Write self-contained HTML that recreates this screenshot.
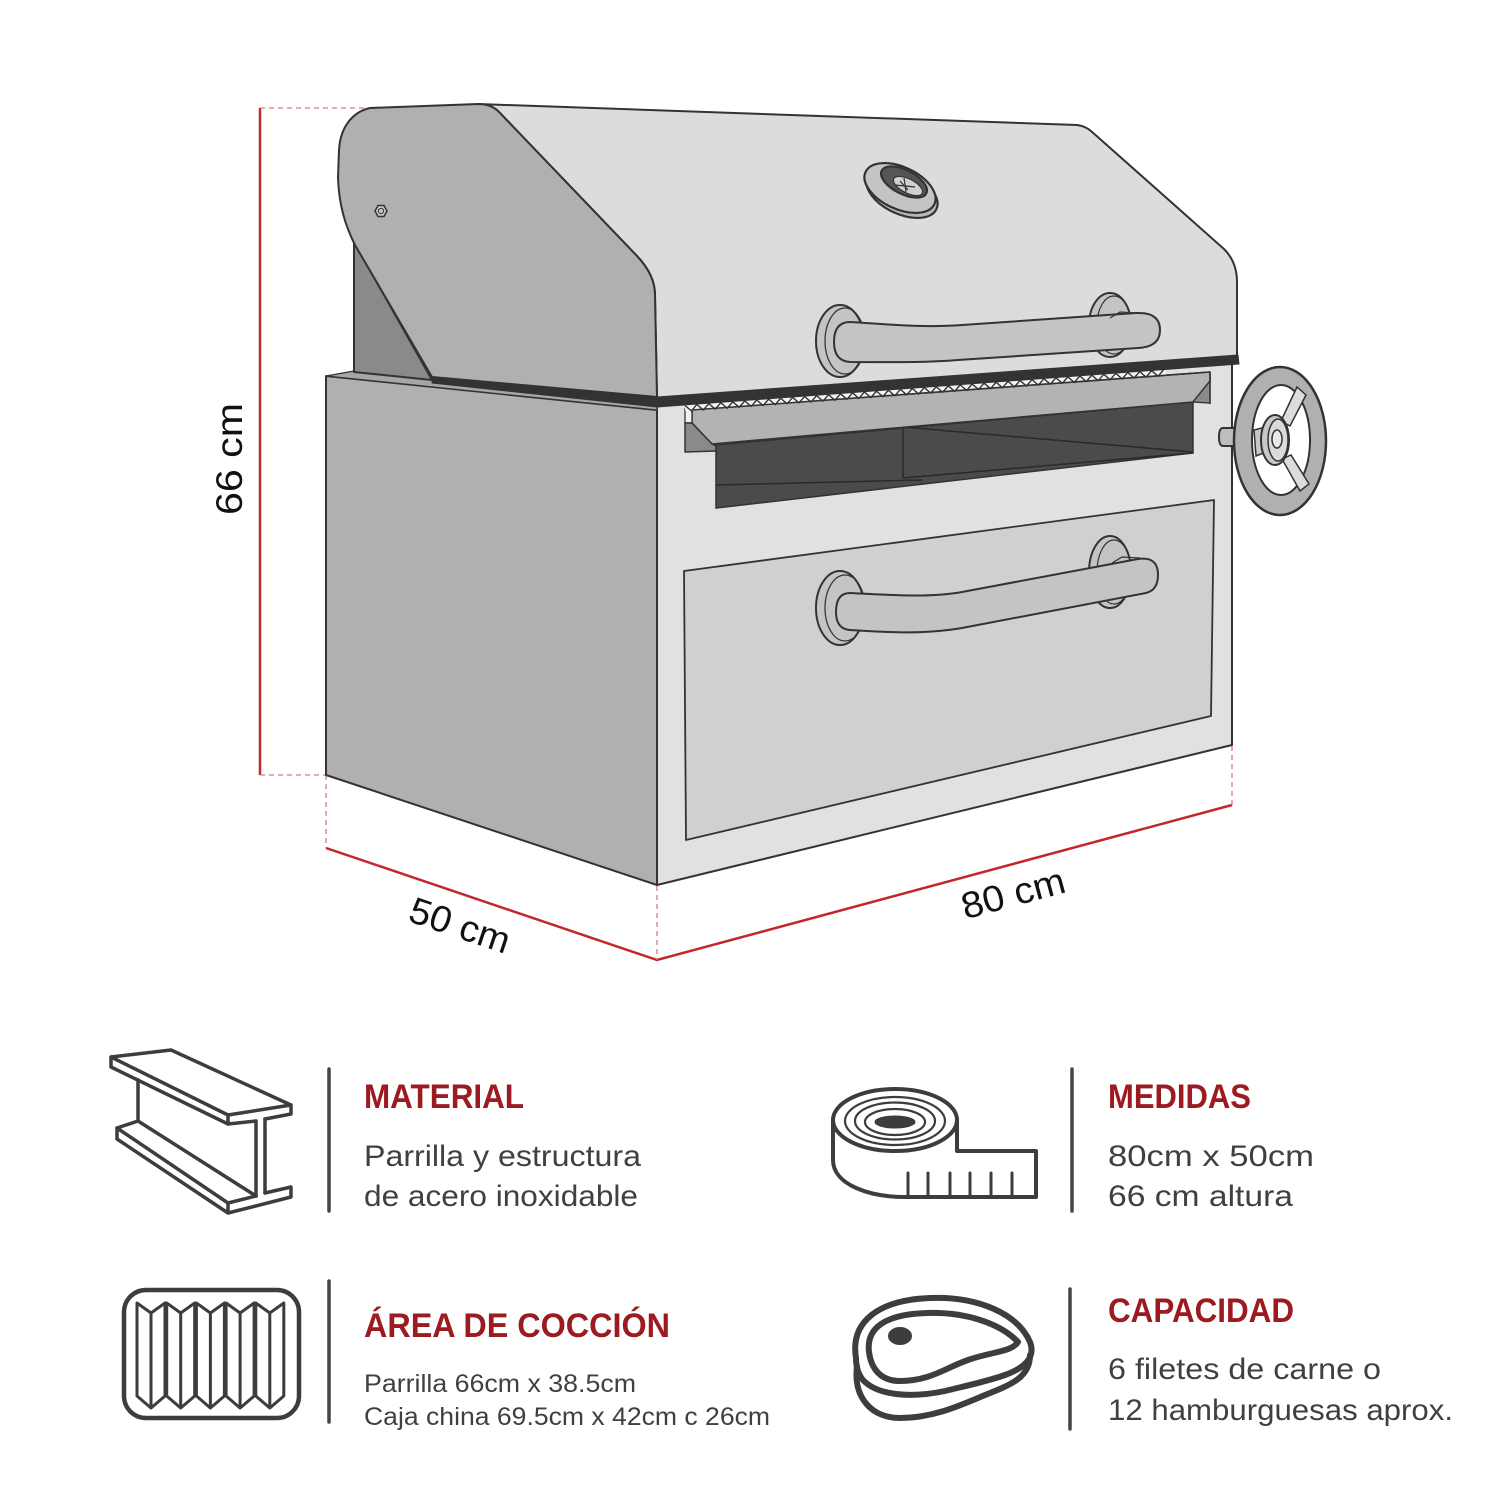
<!DOCTYPE html>
<html>
<head>
<meta charset="utf-8">
<style>
html,body{margin:0;padding:0;background:#ffffff;}
svg{display:block;}
</style>
</head>
<body>
<svg width="1500" height="1500" viewBox="0 0 1500 1500" xmlns="http://www.w3.org/2000/svg">
<rect x="0" y="0" width="1500" height="1500" fill="#ffffff"/>

<!-- Dimension lines -->
<g stroke="#c1272d" fill="none" stroke-width="2.5">
  <line x1="260" y1="108" x2="260" y2="775"/>
  <polyline points="326,848 657,960 1232,805"/>
</g>
<g stroke="#d37a7d" stroke-width="1.3" stroke-dasharray="5,4" fill="none">
  <line x1="260" y1="108" x2="366" y2="108"/>
  <line x1="260" y1="775" x2="326" y2="775"/>
  <line x1="326" y1="775" x2="326" y2="848"/>
  <line x1="657" y1="886" x2="657" y2="960"/>
  <line x1="1232" y1="746" x2="1232" y2="805"/>
</g>

<!-- Box left face -->
<polygon points="326,376 657,410 657,885 326,775" fill="#b0b0b0" stroke="#333" stroke-width="2" stroke-linejoin="round"/>
<!-- Box front face -->
<polygon points="657,406 1232,363 1232,745 657,885" fill="#e1e1e1" stroke="#333" stroke-width="2" stroke-linejoin="round"/>

<!-- Drawer -->
<polygon points="684,571 1214,500 1211,716 686,840" fill="#d0d0d0" stroke="#333" stroke-width="1.8" stroke-linejoin="round"/>

<!-- Drawer handle -->
<g stroke="#333" stroke-width="2" fill="#c4c4c4">
  <ellipse cx="1110" cy="572" rx="21" ry="36"/>
  <ellipse cx="1114" cy="572" rx="17" ry="32" fill="none" stroke-width="1.2"/>
  <ellipse cx="840" cy="608" rx="24" ry="37"/>
  <ellipse cx="845" cy="608" rx="20" ry="33" fill="none" stroke-width="1.2"/>
  <path d="M850,593 C890,595 930,598 962,592 L1138,559 Q1158,556 1158,575 Q1158,590 1146,593 L962,628 C922,635 882,632 850,630 Q836,629 836,612 Q836,593 850,593 Z"/>
  <path d="M1112,563 L1122,557 L1140,558" fill="none" stroke-width="1.3"/>
</g>

<!-- Dark chamber -->
<polygon points="716,445 1193,402 1193,453 716,508" fill="#4b4b4b" stroke="#333" stroke-width="1.5"/>
<path d="M903,427 L903,478 M903,427 L1193,452 M716,485 L922,480 M903,478 L1193,453" stroke="#2a2a2a" stroke-width="1.5" fill="none"/>

<!-- Tray -->
<polygon points="692,410 1210,372 1210,381 1193,402 712,444 692,423" fill="#b3b3b3" stroke="#333" stroke-width="1.6" stroke-linejoin="round"/>
<polygon points="1193,402 1210,381 1210,403" fill="#8a8a8a" stroke="#333" stroke-width="1.3"/>
<line x1="1210" y1="372" x2="1210" y2="404" stroke="#333" stroke-width="1.5"/>
<polygon points="685,409 692,409 692,423 685,423" fill="#f2f2f2" stroke="#333" stroke-width="1.3"/>
<polygon points="685,423 692,423 712,444 716,446 716,451 685,452" fill="#8a8a8a" stroke="#333" stroke-width="1.5" stroke-linejoin="round"/>

<!-- Grate zigzag -->
<g transform="rotate(-4.25)">
  <rect x="653" y="454" width="482" height="7" fill="#f4f4f4"/>
  <path d="M653,455 l6,6l6,-6l6,6l6,-6l6,6l6,-6l6,6l6,-6l6,6l6,-6l6,6l6,-6l6,6l6,-6l6,6l6,-6l6,6l6,-6l6,6l6,-6 l6,6l6,-6l6,6l6,-6l6,6l6,-6l6,6l6,-6l6,6l6,-6l6,6l6,-6l6,6l6,-6l6,6l6,-6l6,6l6,-6l6,6l6,-6 l6,6l6,-6l6,6l6,-6l6,6l6,-6l6,6l6,-6l6,6l6,-6l6,6l6,-6l6,6l6,-6l6,6l6,-6l6,6l6,-6l6,6l6,-6 l6,6l6,-6l6,6l6,-6l6,6l6,-6l6,6l6,-6l6,6l6,-6l6,6l6,-6l6,6l6,-6l6,6l6,-6l6,6l6,-6l6,6l6,-6" fill="none" stroke="#333" stroke-width="1.4"/>
</g>
<line x1="692" y1="410" x2="1210" y2="372" stroke="#333" stroke-width="1.6"/>

<!-- Back bracket behind lid -->
<polygon points="326,376 354,371 432,379 657,400 657,410" fill="#a6a6a6" stroke="#333" stroke-width="1.2" stroke-linejoin="round"/>
<polygon points="354,242 354,372 432,380" fill="#8a8a8a" stroke="#333" stroke-width="2" stroke-linejoin="round"/>

<!-- Lid front (top) -->
<path d="M478,104 L1077,125 Q1085,126 1091,131 L1224,249 Q1237,262 1237,282 L1237,358 L657,398 L655,295 Q655,275 637,256 L500,113 Q492,104 478,104 Z" fill="#dcdcdc" stroke="#333" stroke-width="2" stroke-linejoin="round"/>
<!-- Lid side -->
<path d="M370,108 L478,104 Q492,104 500,113 L637,256 Q655,275 655,295 L657,397 L432,377 L355,245 C345,225 339,205 338,178 L339,150 C340,128 352,112 370,108 Z" fill="#b0b0b0" stroke="#333" stroke-width="2" stroke-linejoin="round"/>

<!-- Band -->
<polygon points="432,377 657,397 1238,355 1239,364 657,407 432,383" fill="#333" stroke="#333" stroke-width="1" stroke-linejoin="round"/>

<!-- Hex nut -->
<polygon points="375,211 378,205.5 384,205.5 387,211 384,216.5 378,216.5" fill="#c8c8c8" stroke="#333" stroke-width="1.5"/>
<circle cx="381" cy="211" r="2.6" fill="none" stroke="#333" stroke-width="1"/>

<!-- Vent -->
<g stroke="#333" stroke-width="2.2">
  <ellipse cx="0" cy="0" rx="38" ry="21" transform="translate(902,193) rotate(25)" fill="#b8b8b8"/>
  <ellipse cx="0" cy="0" rx="38" ry="21" transform="translate(900,188) rotate(25)" fill="#c4c4c4"/>
  <ellipse cx="0" cy="0" rx="25" ry="12" transform="translate(904,182) rotate(27)" fill="#555"/>
  <ellipse cx="0" cy="0" rx="16" ry="7" transform="translate(908,186) rotate(27)" fill="#d0d0d0" stroke-width="1.2"/>
  <path d="M900,181 L908,190 M904,178 L906,192 M895,185 L915,187" stroke-width="1.2" fill="none"/>
</g>

<!-- Lid handle -->
<g stroke="#333" stroke-width="2" fill="#c4c4c4">
  <ellipse cx="1110" cy="325" rx="21" ry="32"/>
  <ellipse cx="1114" cy="325" rx="17" ry="29" fill="none" stroke-width="1.2"/>
  <ellipse cx="840" cy="341" rx="24" ry="36"/>
  <ellipse cx="845" cy="341" rx="20" ry="33" fill="none" stroke-width="1.2"/>
  <path d="M850,322 C885,324 922,328 962,325 L1136,313 Q1160,312 1160,330 Q1160,347 1138,348 L958,360 C922,363 884,362 850,362 Q834,361 834,342 Q834,322 850,322 Z"/>
  <path d="M1110,318 L1120,312 L1136,313" fill="none" stroke-width="1.3"/>
</g>

<!-- Wheel -->
<g stroke="#333" stroke-width="2">
  <path d="M1236,428 L1223,428 Q1219,428 1219,437 Q1219,446 1223,446 L1236,446 Z" fill="#bdbdbd"/>
  <ellipse cx="1280" cy="441" rx="46" ry="74" fill="#b0b0b0" stroke-width="2.5"/>
  <ellipse cx="1281" cy="440" rx="29" ry="55" fill="#ffffff"/>
  <polygon points="1281,421 1297,387 1306,395 1290,426" fill="#dcdcdc" stroke-width="1.5"/>
  <polygon points="1282,459 1291,455 1309,484 1300,491" fill="#dcdcdc" stroke-width="1.5"/>
  <polygon points="1254,430 1266,427 1266,452 1256,456" fill="#c8c8c8" stroke-width="1.5"/>
  <ellipse cx="1275" cy="440" rx="14" ry="25" fill="#c8c8c8"/>
  <ellipse cx="1278" cy="440" rx="10" ry="21" fill="#dadada" stroke-width="1.5"/>
  <ellipse cx="1277" cy="439" rx="5" ry="9" fill="#e8e8e8" stroke-width="1.5"/>
</g>

<!-- Dimension labels -->
<g font-family="'Liberation Sans', Arial, sans-serif" fill="#111" font-size="37">
  <text transform="translate(242,459) rotate(-90)" text-anchor="middle" textLength="112" lengthAdjust="spacingAndGlyphs">66 cm</text>
  <text transform="translate(460,925) rotate(18.7)" x="0" y="13" text-anchor="middle" textLength="104" lengthAdjust="spacingAndGlyphs">50 cm</text>
  <text transform="translate(1013,893) rotate(-15.1)" x="0" y="13" text-anchor="middle" textLength="106" lengthAdjust="spacingAndGlyphs">80 cm</text>
</g>

<!-- Dividers -->
<g stroke="#454545" stroke-width="3.5" stroke-linecap="round">
  <line x1="329" y1="1069" x2="329" y2="1211"/>
  <line x1="329" y1="1281" x2="329" y2="1422"/>
  <line x1="1072" y1="1069" x2="1072" y2="1211"/>
  <line x1="1070" y1="1289" x2="1070" y2="1429"/>
</g>

<!-- I-beam icon -->
<g stroke="#3d3d3d" stroke-width="3.5" fill="none" stroke-linejoin="round" stroke-linecap="round">
  <path d="M111,1057 L171,1050 L291,1105 L228,1115 Z"/>
  <path d="M111,1057 L111,1067 L228,1124 L228,1115"/>
  <path d="M291,1105 L291,1114 L265,1119 M256,1121 L228,1124"/>
  <path d="M256,1121 L256,1196 M265,1119 L265,1193"/>
  <path d="M138,1080 L138,1121"/>
  <path d="M117,1128 L138,1121 L256,1196"/>
  <path d="M117,1128 L228,1203 L256,1196 M265,1193 L291,1187 L291,1197 L228,1213 L117,1139 L117,1128 M228,1203 L228,1213"/>
</g>

<!-- Grill icon -->
<g stroke="#3d3d3d" fill="none" stroke-linejoin="round">
  <rect x="124" y="1290" width="175" height="128" rx="22" ry="22" stroke-width="4.5"/>
  <g stroke-width="3">
    <path d="M137,1303 L151,1313 L165,1303 L165,1396 L151,1408 L137,1396 Z M151,1313 L151,1408"/>
    <path d="M166.7,1303 L180.7,1313 L194.7,1303 L194.7,1396 L180.7,1408 L166.7,1396 Z M180.7,1313 L180.7,1408"/>
    <path d="M196.4,1303 L210.4,1313 L224.4,1303 L224.4,1396 L210.4,1408 L196.4,1396 Z M210.4,1313 L210.4,1408"/>
    <path d="M226.1,1303 L240.1,1313 L254.1,1303 L254.1,1396 L240.1,1408 L226.1,1396 Z M240.1,1313 L240.1,1408"/>
    <path d="M255.8,1303 L269.8,1313 L283.8,1303 L283.8,1396 L269.8,1408 L255.8,1396 Z M269.8,1313 L269.8,1408"/>
  </g>
</g>

<!-- Tape measure icon -->
<g stroke="#3d3d3d" fill="none" stroke-linejoin="round" stroke-linecap="round">
  <path d="M833,1120 L833,1160 C833,1185 870,1197 905,1197 L1036,1197 L1036,1151 L957,1151 L957,1120" stroke-width="4"/>
  <ellipse cx="895" cy="1120" rx="62" ry="31" stroke-width="4"/>
  <ellipse cx="895" cy="1121" rx="50" ry="24" stroke-width="2.2"/>
  <ellipse cx="895" cy="1121" rx="40" ry="18.5" stroke-width="2.2"/>
  <ellipse cx="895" cy="1122" rx="30" ry="13" stroke-width="2.2"/>
  <ellipse cx="895" cy="1122" rx="20" ry="6" fill="#3d3d3d" stroke-width="1"/>
  <path d="M908,1173 L908,1196 M928,1173 L928,1196 M950,1173 L950,1196 M970,1173 L970,1196 M991,1173 L991,1196 M1012,1173 L1012,1196" stroke-width="3"/>
</g>

<!-- Steak icon -->
<g stroke="#3d3d3d" fill="none" stroke-width="6" stroke-linejoin="round" stroke-linecap="round">
  <path d="M856,1358 C850,1322 878,1300 930,1298 C978,1296 1018,1314 1030,1342 C1036,1358 1024,1368 1005,1375 C985,1382 965,1386 945,1391 C912,1398 878,1396 863,1380 C858,1374 856,1366 856,1358 Z"/>
  <path d="M857,1366 C853,1398 872,1418 900,1418 C930,1418 955,1408 985,1395 C1010,1385 1030,1378 1030,1355"/>
  <path d="M869,1352 C866,1328 885,1314 928,1313 C965,1312 1000,1323 1018,1342 C1012,1352 990,1352 968,1360 C945,1368 930,1381 900,1381 C880,1381 871,1368 869,1352 Z"/>
  <ellipse cx="900" cy="1336" rx="12" ry="9" fill="#3d3d3d" stroke="none"/>
</g>

<!-- Spec texts -->
<g font-family="'Liberation Sans', Arial, sans-serif">
  <text x="364" y="1108" font-size="34" font-weight="bold" fill="#9b1b20" textLength="160" lengthAdjust="spacingAndGlyphs">MATERIAL</text>
  <text x="364" y="1166" font-size="30" fill="#404040" textLength="277" lengthAdjust="spacingAndGlyphs">Parrilla y estructura</text>
  <text x="364" y="1206" font-size="30" fill="#404040" textLength="274" lengthAdjust="spacingAndGlyphs">de acero inoxidable</text>

  <text x="364" y="1337" font-size="34" font-weight="bold" fill="#9b1b20" textLength="306" lengthAdjust="spacingAndGlyphs">ÁREA DE COCCIÓN</text>
  <text x="364" y="1392" font-size="25" fill="#404040" textLength="272" lengthAdjust="spacingAndGlyphs">Parrilla 66cm x 38.5cm</text>
  <text x="364" y="1425" font-size="25" fill="#404040" textLength="406" lengthAdjust="spacingAndGlyphs">Caja china 69.5cm x 42cm c 26cm</text>

  <text x="1108" y="1108" font-size="34" font-weight="bold" fill="#9b1b20" textLength="143" lengthAdjust="spacingAndGlyphs">MEDIDAS</text>
  <text x="1108" y="1166" font-size="30" fill="#404040" textLength="206" lengthAdjust="spacingAndGlyphs">80cm x 50cm</text>
  <text x="1108" y="1206" font-size="30" fill="#404040" textLength="185" lengthAdjust="spacingAndGlyphs">66 cm altura</text>

  <text x="1108" y="1322" font-size="34" font-weight="bold" fill="#9b1b20" textLength="186" lengthAdjust="spacingAndGlyphs">CAPACIDAD</text>
  <text x="1108" y="1379" font-size="30" fill="#404040" textLength="273" lengthAdjust="spacingAndGlyphs">6 filetes de carne o</text>
  <text x="1108" y="1420" font-size="30" fill="#404040" textLength="345" lengthAdjust="spacingAndGlyphs">12 hamburguesas aprox.</text>
</g>
</svg>
</body>
</html>
